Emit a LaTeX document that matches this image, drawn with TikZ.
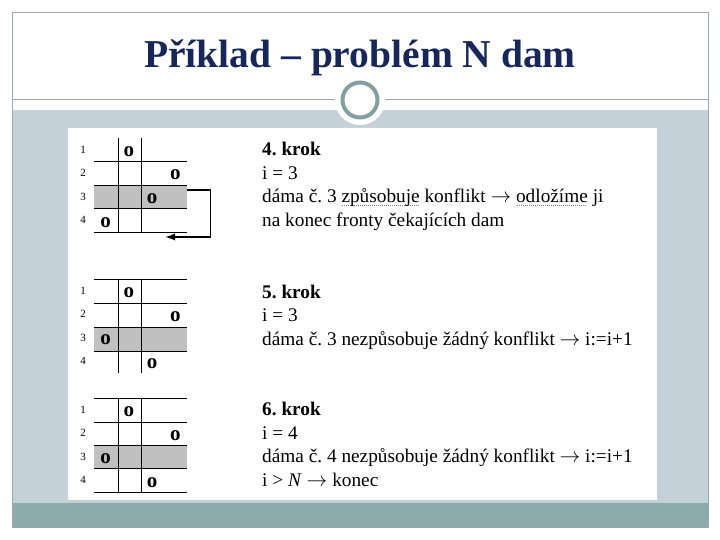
\documentclass[tikz,border=0pt]{standalone}
\usepackage{fontspec}
\setmainfont{Liberation Serif}
\usetikzlibrary{arrows.meta,positioning}
\definecolor{titlenavy}{HTML}{17275A}
\definecolor{slateband}{HTML}{C5D1D8}
\definecolor{tealband}{HTML}{8EABAB}
\definecolor{ringteal}{HTML}{849F9F}
\definecolor{framegray}{HTML}{9EA7AD}
\definecolor{rowgray}{HTML}{C0C0C0}
\newcommand\spellmark[1]{\setbox0\hbox{#1}\rlap{\raisebox{-3.5pt}{\color{gray}\hbox to \wd0{\leaders\hbox to 2pt{\hss\rule{0.9pt}{0.9pt}\hss}\hfil}}}\box0\relax}
\frenchspacing

\begin{document}
\begin{tikzpicture}[
  x=1pt, y=-1pt,
  every node/.style={inner sep=0pt},
  title/.style={font=\fontsize{39.5}{44}\selectfont\bfseries, text=titlenavy, anchor=base},
  steptext/.style={font=\fontsize{19.3}{23.5}\selectfont, align=left, anchor=base west},
  rowlabel/.style={font=\fontsize{11}{12}\selectfont},
  queen/.style={font=\fontsize{21}{22}\selectfont\bfseries, anchor=base},
  hlrow/.style={fill=rowgray, minimum width=93pt, minimum height=23.5pt, anchor=north west},
  gridline/.style={line width=0.9pt},
  backarrow/.style={-{Latex[length=10pt,width=7pt]}, line width=1.4pt},
]
% Slide frame
\fill[white] (0,0) rectangle (720,540);
\useasboundingbox (0,0) rectangle (720,540);
\fill[slateband] (12,110) rectangle (708,503);
\fill[tealband] (12,503) rectangle (708,527);
\draw[framegray, line width=0.8pt] (12,12) rectangle (708,527);
\draw[framegray, line width=1pt] (12,100) -- (708,100);
\fill[white] (68,128) rectangle (657,500);

% Title and ring
\node[title] (title) at (360,68) {Příklad – problém N dam};
\node[circle, fill=white, minimum size=50pt] (halo) at (360,100) {};
\node[circle, draw=ringteal, line width=4pt, minimum size=35pt] (ring) at (halo) {};

% Step 4 board
\begin{scope}[shift={(94,138)}]
  \node[hlrow] (hl4) at (0,47) {};
  \foreach \y in {23.5,47,70.5,94} \draw[gridline] (0,\y) -- (93,\y);
  \foreach \x in {24,47} \draw[gridline] (\x,0) -- (\x,94);
  \foreach \r/\c in {1/2,2/4,3/3,4/1}
    \node[queen] (q4\r) at ({(\c-0.5)*23.25},{\r*23.5-5}) {o};
  \foreach \r in {1,...,4}
    \node[rowlabel] (n4\r) at (-11,{(\r-0.5)*23.5}) {\r};
\end{scope}
\coordinate (back4) at (165,237);
\draw[backarrow] ([yshift=-5pt]hl4.north east) -- ++(23,0) |- (back4);

% Step 5 board
\begin{scope}[shift={(94,279)}]
  \node[hlrow] (hl5) at (0,48) {};
  \foreach \y in {0,24,48,72} \draw[gridline] (0,\y) -- (93,\y);
  \foreach \x in {24,47} \draw[gridline] (\x,0) -- (\x,94);
  \foreach \r/\c in {1/2,2/4,3/1,4/3}
    \node[queen] (q5\r) at ({(\c-0.5)*23.25},{\r*23.5-5}) {o};
  \foreach \r in {1,...,4}
    \node[rowlabel] (n5\r) at (-11,{(\r-0.5)*23.5}) {\r};
\end{scope}

% Step 6 board
\begin{scope}[shift={(94,398)}]
  \node[hlrow] (hl6) at (0,47) {};
  \foreach \y in {0,24,47,70.5,94} \draw[gridline] (0,\y) -- (93,\y);
  \foreach \x in {24,47} \draw[gridline] (\x,0) -- (\x,94);
  \foreach \r/\c in {1/2,2/4,3/1,4/3}
    \node[queen] (q6\r) at ({(\c-0.5)*23.25},{\r*23.5-5}) {o};
  \foreach \r in {1,...,4}
    \node[rowlabel] (n6\r) at (-11,{(\r-0.5)*23.5}) {\r};
\end{scope}

% Step texts (anchored at the last line's baseline)
\node[steptext] (step4) at (262,226) {\textbf{4. krok}\\ i = 3\\
  dáma č. 3 \spellmark{způsobuje} konflikt $\rightarrow$ \spellmark{odložíme} ji\\
  na konec fronty čekajících dam};
\node[steptext] (step5) at (262,345) {\textbf{5. krok}\\ i = 3\\
  dáma č. 3 nezpůsobuje žádný konflikt $\rightarrow$ i:=i+1};
\node[steptext] (step6) at (262,486) {\textbf{6. krok}\\ i = 4\\
  dáma č. 4 nezpůsobuje žádný konflikt $\rightarrow$ i:=i+1\\
  i > \textit{N} $\rightarrow$ konec};
\end{tikzpicture}
\end{document}
